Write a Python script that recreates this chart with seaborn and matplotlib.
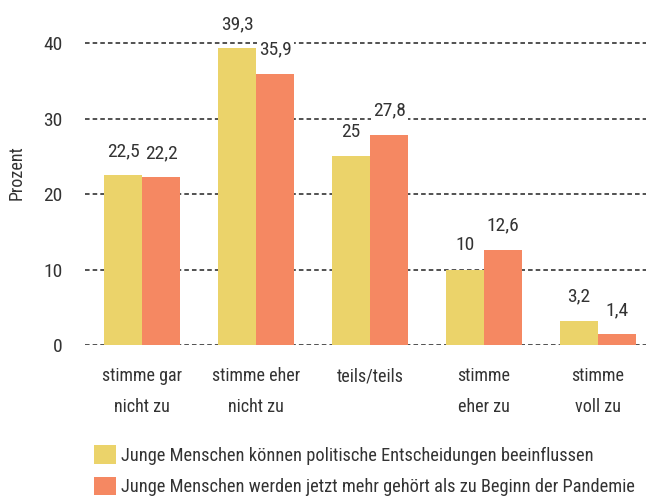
import pandas as pd
import seaborn as sns
import matplotlib.pyplot as plt
from matplotlib import font_manager

categories = ["stimme gar\nnicht zu", "stimme eher\nnicht zu", "teils/teils",
              "stimme\neher zu", "stimme\nvoll zu"]
series_names = ["Junge Menschen können politische Entscheidungen beeinflussen",
                "Junge Menschen werden jetzt mehr gehört als zu Beginn der Pandemie"]
values_a = [22.5, 39.3, 25, 10, 3.2]
values_b = [22.2, 35.9, 27.8, 12.6, 1.4]
colors = ["#ebd36a", "#f58862"]
text_color = "#333333"


def fmt(v):
    return f"{v:g}".replace(".", ",")


def pick_narrow_font():
    # look for some condensed / narrow sans face among the installed fonts
    found = []
    for f in font_manager.fontManager.ttflist:
        narrow = ("Narrow" in f.name or "Condensed" in f.name
                  or "condensed" in str(f.stretch))
        if narrow and f.style == "normal" and f.weight in (400, "normal", "regular"):
            found.append(f)
    if not found:
        return None, "normal"
    pref = ["Roboto Condensed", "Liberation Sans Narrow", "Open Sans Condensed",
            "DejaVu Sans Condensed", "DejaVu Sans"]
    found.sort(key=lambda f: pref.index(f.name) if f.name in pref else 99)
    return found[0].name, found[0].stretch


def main():
    sns.set_style("white")
    name, stretch = pick_narrow_font()
    fams = [name, "DejaVu Sans"] if name else ["DejaVu Sans"]
    plt.rcParams["font.family"] = fams
    plt.rcParams["font.stretch"] = stretch

    data = pd.DataFrame({
        "Kategorie": categories * 2,
        "Prozent": values_a + values_b,
        "Serie": [series_names[0]] * 5 + [series_names[1]] * 5,
    })

    fig = plt.figure(figsize=(6.46, 5.0), dpi=100)
    ax = fig.add_axes([0.1316, 0.31, 0.8684, 0.69])

    sns.barplot(data=data, x="Kategorie", y="Prozent", hue="Serie",
                palette=colors, width=0.667, saturation=1, linewidth=0,
                ax=ax, zorder=2)

    ax.set_xlim(-0.5, 4.42)
    ax.set_ylim(0, 45.7)
    ax.set_yticks([0, 10, 20, 30, 40])
    ax.yaxis.grid(True, linestyle=(0, (3, 2)), color="#222222", linewidth=1.1, zorder=0)
    ax.set_axisbelow(True)
    for s in ax.spines.values():
        s.set_visible(False)
    ax.tick_params(axis="both", length=0, colors=text_color)
    ax.tick_params(axis="y", pad=16, labelsize=14)
    ax.tick_params(axis="x", pad=16, labelsize=13)
    for lbl in ax.get_xticklabels():
        lbl.set_linespacing(1.9)
    ax.set_xlabel("")
    ax.set_ylabel("Prozent", fontsize=13, color=text_color)
    ax.yaxis.set_label_coords(-0.105, 0.5)

    for cont in ax.containers:
        for bar in cont:
            h = bar.get_height()
            ax.annotate(fmt(h), (bar.get_x() + bar.get_width() / 2, h),
                        xytext=(0, 11), textcoords="offset points",
                        ha="center", va="bottom", fontsize=14, color=text_color,
                        bbox=dict(facecolor="white", edgecolor="none", pad=1.5),
                        zorder=1)

    ax.legend(loc="upper left", bbox_to_anchor=(0.016, -0.29), frameon=False,
              fontsize=13.2, labelcolor=text_color, handlelength=1.2,
              handleheight=1.2, handletextpad=0.3, labelspacing=0.65,
              borderaxespad=0, borderpad=0)

    fig.savefig("out.png", dpi=100)


if __name__ == "__main__":
    main()
